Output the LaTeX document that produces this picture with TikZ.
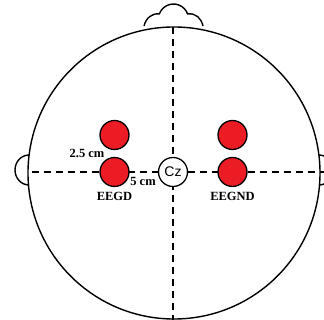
\documentclass[tikz,border=0pt]{standalone}
\usepackage{fontspec}
\setmainfont{Liberation Serif}
\newfontfamily\czfont{Liberation Sans}
\definecolor{elecred}{RGB}{236,28,36}
\begin{document}
\begin{tikzpicture}[x=1pt,y=1pt,
  outline/.style={line width=1.4pt},
  guide/.style={line width=1.6pt, dash pattern=on 7pt off 5pt},
  electrode/.style={circle, draw, line width=1.3pt, fill=elecred, minimum size=29pt, inner sep=0pt},
  refsite/.style={circle, draw, line width=1.3pt, fill=white, minimum size=29pt, inner sep=0pt, font=\czfont\fontsize{14}{14}\selectfont},
  lbl/.style={font=\bfseries\fontsize{12.5}{12.5}\selectfont, inner sep=0pt}]
\useasboundingbox (0,0) rectangle (324,320);
\begin{scope}
\clip (0,0) rectangle (324,320);
% head
\coordinate (hc) at (174,147);
\draw[outline] (hc) circle (146);
% nose
\draw[outline] (144,294) .. controls (146,302) and (152,307) .. (159.4,306.1)
  arc[start angle=160, end angle=20, radius=15]
  .. controls (196,307) and (201,302) .. (203,294);
% ears
\draw[outline] (29,165) arc[start angle=90, end angle=270, x radius=14, y radius=15];
\draw[outline] (319,165) arc[start angle=90, end angle=-90, x radius=14, y radius=15];
% guides
\coordinate (vt) at (173,293);
\coordinate (vb) at (173,-2);
\coordinate (hl) at (32,148);
\coordinate (hr) at (326,148);
\draw[guide] (vt) -- (vb);
\draw[guide] (hl) -- (hr);
\end{scope}
% electrodes
\node[electrode] (ldt) at (114.5,185) {};
\node[electrode] (ldb) at (114.5,148) {};
\node[electrode] (rdt) at (232.5,185) {};
\node[electrode] (rdb) at (232.5,148) {};
\node[refsite] (cz) at (173,148) {Cz};
% labels
\node[lbl] (l25) at (87,167) {2.5 cm};
\node[lbl] (l5) at (143,139) {5 cm};
\node[lbl] (leegd) at (114.5,124) {EEGD};
\node[lbl] (leegnd) at (232.5,124) {EEGND};
\end{tikzpicture}
\end{document}
